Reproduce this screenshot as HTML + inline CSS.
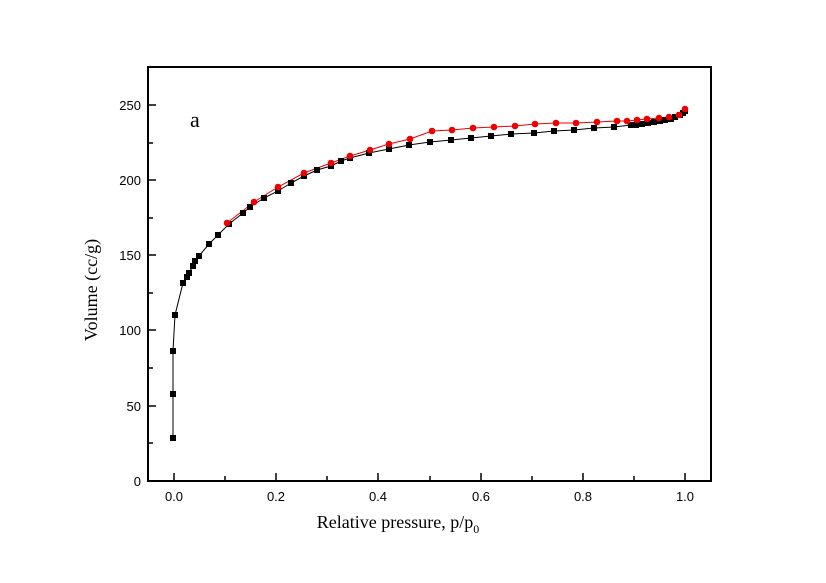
<!DOCTYPE html>
<html><head><style>body{margin:0;background:#fff}</style></head><body>
<svg width="826" height="578" xmlns="http://www.w3.org/2000/svg" font-family="Liberation Sans, sans-serif">
<rect x="148" y="67" width="563" height="414" fill="none" stroke="#000" stroke-width="2"/>
<g stroke="#000" stroke-width="1.5">
<line x1="148" y1="481" x2="156" y2="481"/><line x1="148" y1="443" x2="153" y2="443"/>
<line x1="148" y1="406" x2="156" y2="406"/><line x1="148" y1="368" x2="153" y2="368"/>
<line x1="148" y1="330" x2="156" y2="330"/><line x1="148" y1="293" x2="153" y2="293"/>
<line x1="148" y1="255" x2="156" y2="255"/><line x1="148" y1="218" x2="153" y2="218"/>
<line x1="148" y1="180" x2="156" y2="180"/><line x1="148" y1="143" x2="153" y2="143"/>
<line x1="148" y1="105" x2="156" y2="105"/>
<line x1="174" y1="481" x2="174" y2="473"/><line x1="225" y1="481" x2="225" y2="476"/>
<line x1="276" y1="481" x2="276" y2="473"/><line x1="327" y1="481" x2="327" y2="476"/>
<line x1="378" y1="481" x2="378" y2="473"/><line x1="430" y1="481" x2="430" y2="476"/>
<line x1="481" y1="481" x2="481" y2="473"/><line x1="532" y1="481" x2="532" y2="476"/>
<line x1="583" y1="481" x2="583" y2="473"/><line x1="634" y1="481" x2="634" y2="476"/>
<line x1="685" y1="481" x2="685" y2="473"/>
</g>
<g font-size="13" text-anchor="end">
<text x="141" y="486">0</text><text x="141" y="411">50</text><text x="141" y="335">100</text>
<text x="141" y="260">150</text><text x="141" y="185">200</text><text x="141" y="110">250</text>
</g>
<g font-size="13" text-anchor="middle">
<text x="174" y="501">0.0</text><text x="276" y="501">0.2</text><text x="378" y="501">0.4</text>
<text x="481" y="501">0.6</text><text x="583" y="501">0.8</text><text x="685" y="501">1.0</text>
</g>
<text x="398" y="528" font-family="Liberation Serif, serif" font-size="18" text-anchor="middle">Relative pressure, p/p<tspan font-size="12" dy="5">0</tspan></text>
<text transform="translate(97,290) rotate(-90)" font-family="Liberation Serif, serif" font-size="18" text-anchor="middle">Volume (cc/g)</text>
<text x="190" y="127" font-family="Liberation Serif, serif" font-size="22">a</text>
<polyline fill="none" stroke="#000" stroke-width="1" points="173,438 173,394 173,351 175,315 183,283 187,277 189,273 193,266 195,261 199,256 209,244 218,235 229,224 243,213 250,207 264,198 278,191 291,183 304,176 317,170 331,166 341,161 350,158 369,153 389,149 409,145 430,142 451,140 471,138 491,136 511,134 534,133 554,131 574,130 594,128 614,127 631,125 636,125 642,124 648,123 654,122 660,121 665,120 671,119 675,117 680,115 683,113 685,111"/>
<polyline fill="none" stroke="#e00" stroke-width="1" points="227,223 254,202 278,187 304,173 331,163 350,156 370,150 389,144 410,139 432,131 452,130 473,128 494,127 515,126 535,124 556,123 576,123 597,122 617,121 627,121 637,120 647,119 659,118 669,117 679,115 685,109"/>
<g fill="#000">
<rect x="170" y="435" width="6" height="6"/><rect x="170" y="391" width="6" height="6"/><rect x="170" y="348" width="6" height="6"/><rect x="172" y="312" width="6" height="6"/><rect x="180" y="280" width="6" height="6"/><rect x="184" y="274" width="6" height="6"/><rect x="186" y="270" width="6" height="6"/><rect x="190" y="263" width="6" height="6"/><rect x="192" y="258" width="6" height="6"/><rect x="196" y="253" width="6" height="6"/><rect x="206" y="241" width="6" height="6"/><rect x="215" y="232" width="6" height="6"/><rect x="226" y="221" width="6" height="6"/><rect x="240" y="210" width="6" height="6"/><rect x="247" y="204" width="6" height="6"/><rect x="261" y="195" width="6" height="6"/><rect x="275" y="188" width="6" height="6"/><rect x="288" y="180" width="6" height="6"/><rect x="301" y="173" width="6" height="6"/><rect x="314" y="167" width="6" height="6"/><rect x="328" y="163" width="6" height="6"/><rect x="338" y="158" width="6" height="6"/><rect x="347" y="155" width="6" height="6"/><rect x="366" y="150" width="6" height="6"/><rect x="386" y="146" width="6" height="6"/><rect x="406" y="142" width="6" height="6"/><rect x="427" y="139" width="6" height="6"/><rect x="448" y="137" width="6" height="6"/><rect x="468" y="135" width="6" height="6"/><rect x="488" y="133" width="6" height="6"/><rect x="508" y="131" width="6" height="6"/><rect x="531" y="130" width="6" height="6"/><rect x="551" y="128" width="6" height="6"/><rect x="571" y="127" width="6" height="6"/><rect x="591" y="125" width="6" height="6"/><rect x="611" y="124" width="6" height="6"/><rect x="628" y="122" width="6" height="6"/><rect x="633" y="122" width="6" height="6"/><rect x="639" y="121" width="6" height="6"/><rect x="645" y="120" width="6" height="6"/><rect x="651" y="119" width="6" height="6"/><rect x="657" y="118" width="6" height="6"/><rect x="662" y="117" width="6" height="6"/><rect x="668" y="116" width="6" height="6"/><rect x="672" y="114" width="6" height="6"/><rect x="677" y="112" width="6" height="6"/><rect x="680" y="110" width="6" height="6"/><rect x="682" y="108" width="6" height="6"/>
</g>
<g fill="#e00">
<circle cx="227" cy="223" r="3.3"/><circle cx="254" cy="202" r="3.3"/><circle cx="278" cy="187" r="3.3"/><circle cx="304" cy="173" r="3.3"/><circle cx="331" cy="163" r="3.3"/><circle cx="350" cy="156" r="3.3"/><circle cx="370" cy="150" r="3.3"/><circle cx="389" cy="144" r="3.3"/><circle cx="410" cy="139" r="3.3"/><circle cx="432" cy="131" r="3.3"/><circle cx="452" cy="130" r="3.3"/><circle cx="473" cy="128" r="3.3"/><circle cx="494" cy="127" r="3.3"/><circle cx="515" cy="126" r="3.3"/><circle cx="535" cy="124" r="3.3"/><circle cx="556" cy="123" r="3.3"/><circle cx="576" cy="123" r="3.3"/><circle cx="597" cy="122" r="3.3"/><circle cx="617" cy="121" r="3.3"/><circle cx="627" cy="121" r="3.3"/><circle cx="637" cy="120" r="3.3"/><circle cx="647" cy="119" r="3.3"/><circle cx="659" cy="118" r="3.3"/><circle cx="669" cy="117" r="3.3"/><circle cx="679" cy="115" r="3.3"/><circle cx="685" cy="109" r="3.3"/>
</g>
</svg>
</body></html>
